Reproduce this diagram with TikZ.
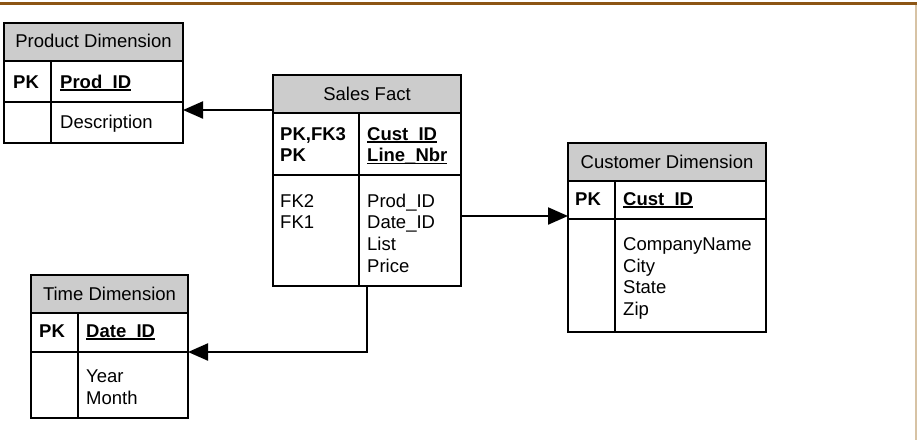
\documentclass[tikz,border=0pt]{standalone}
\usepackage{fontspec}
\setmainfont{Liberation Sans}
\usetikzlibrary{arrows.meta,calc}
\definecolor{hdrgray}{RGB}{204,204,204}
\definecolor{topbrown}{RGB}{140,85,20}
\definecolor{sidetan}{RGB}{215,195,165}
\newcommand\ulbf[1]{\setbox0\hbox{\bfseries #1}\rlap{\rule[-2.6pt]{\wd0}{1.6pt}}\box0}
\begin{document}
\begin{tikzpicture}[x=1pt,y=-1pt,
  box/.style={draw, line width=1.3pt, anchor=north west, inner sep=0pt, outer sep=0pt},
  hdr/.style={box, fill=hdrgray},
  row/.style={box, fill=white},
  txt/.style={anchor=base west, inner sep=0pt, font=\fontsize{18.5}{21.7}\selectfont},
  htxt/.style={txt, anchor=base},
  divider/.style={line width=1.3pt},
  conn/.style={line width=2.2pt, -{Triangle[length=20pt,width=17pt]}},
]
\fill[white] (0,0) rectangle (917,440);
\useasboundingbox (0,0) rectangle (917,440);
\draw[topbrown, line width=3pt] (0,3.2) -- (917,3.2);
\draw[sidetan, line width=1.5pt] (916,5) -- (916,440);

% Product Dimension
\node[hdr, minimum width=179pt, minimum height=38pt] (prodh) at (4,23) {};
\node[row, minimum width=179pt, minimum height=41pt] (prodk) at (4,61) {};
\node[row, minimum width=179pt, minimum height=41pt] (proda) at (4,102) {};
\draw[divider] ([xshift=47pt]prodk.north west) -- ([xshift=47pt]proda.south west);
\node[htxt] (prodt) at (93.5,47.7) {Product Dimension};
\node[txt] (prodpk) at (13,88) {\bfseries PK};
\node[txt] (prodid) at (60,88) {\ulbf{Prod\_ID}};
\node[txt] (proddesc) at (60,128.5) {Description};

% Sales Fact
\node[hdr, minimum width=188pt, minimum height=38pt] (salesh) at (273,75) {};
\node[row, minimum width=188pt, minimum height=62pt] (salesk) at (273,113) {};
\node[row, minimum width=188pt, minimum height=111pt] (salesa) at (273,175) {};
\draw[divider] ([xshift=86pt]salesk.north west) -- ([xshift=86pt]salesa.south west);
\node[htxt] (salest) at (367,100) {Sales Fact};
\node[txt] (salesk1) at (280,140) {\bfseries PK,FK3};
\node[txt] (salesk2) at (280,161.7) {\bfseries PK};
\node[txt] (salesc1) at (367,140) {\ulbf{Cust\_ID}};
\node[txt] (salesc2) at (367,161.7) {\ulbf{Line\_Nbr}};
\node[txt] (salesf1) at (280,207) {FK2};
\node[txt] (salesf2) at (280,228.7) {FK1};
\node[txt] (salesa1) at (367,207) {Prod\_ID};
\node[txt] (salesa2) at (367,228.7) {Date\_ID};
\node[txt] (salesa3) at (367,250.4) {List};
\node[txt] (salesa4) at (367,272.1) {Price};

% Customer Dimension
\node[hdr, minimum width=198pt, minimum height=38pt] (custh) at (568,143) {};
\node[row, minimum width=198pt, minimum height=38pt] (custk) at (568,181) {};
\node[row, minimum width=198pt, minimum height=113pt] (custa) at (568,219) {};
\draw[divider] ([xshift=47pt]custk.north west) -- ([xshift=47pt]custa.south west);
\node[htxt] (custt) at (667,168) {Customer Dimension};
\node[txt] (custpk) at (575,205) {\bfseries PK};
\node[txt] (custid) at (623,205) {\ulbf{Cust\_ID}};
\node[txt] (custa1) at (623,250.5) {CompanyName};
\node[txt] (custa2) at (623,272.2) {City};
\node[txt] (custa3) at (623,293.9) {State};
\node[txt] (custa4) at (623,315.6) {Zip};

% Time Dimension
\node[hdr, minimum width=157pt, minimum height=38pt] (timeh) at (31,275) {};
\node[row, minimum width=157pt, minimum height=39pt] (timek) at (31,313) {};
\node[row, minimum width=157pt, minimum height=66pt] (timea) at (31,352) {};
\draw[divider] ([xshift=47pt]timek.north west) -- ([xshift=47pt]timea.south west);
\node[htxt] (timet) at (109.5,300) {Time Dimension};
\node[txt] (timepk) at (39,337) {\bfseries PK};
\node[txt] (timeid) at (86,337) {\ulbf{Date\_ID}};
\node[txt] (timea1) at (86,382.5) {Year};
\node[txt] (timea2) at (86,404.2) {Month};

% Connectors
\draw[conn] ([yshift=-35pt]salesh.north west) -- ([yshift=-35pt]salesh.north west -| proda.east);
\draw[conn] ([yshift=-141pt]salesh.north east) -- ([yshift=-141pt]salesh.north east -| custk.west);
\draw[conn] ([xshift=94pt]salesa.south west) |- (timek.south east);
\end{tikzpicture}
\end{document}
